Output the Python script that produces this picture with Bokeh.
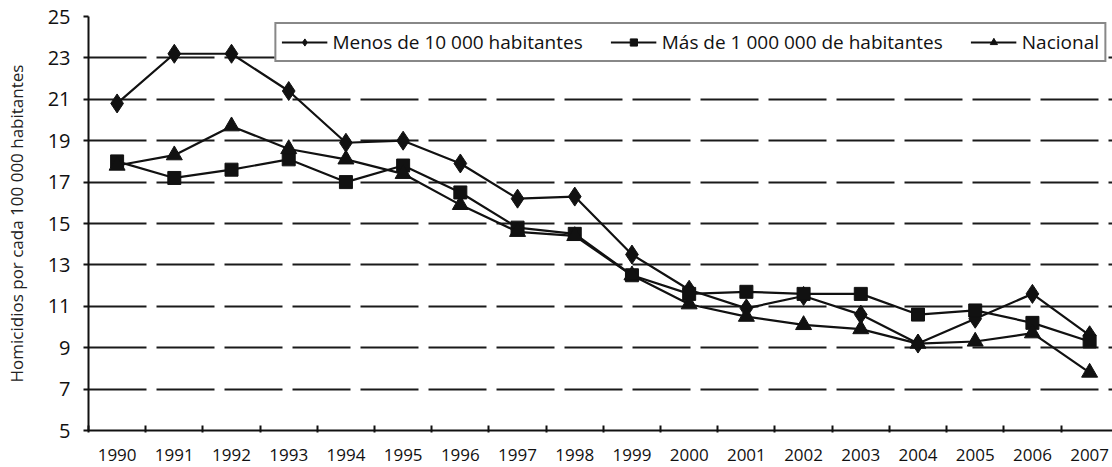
from bokeh.plotting import figure
from bokeh.models import Range1d, FixedTicker, Legend, LegendItem
from bokeh.embed import file_html
from bokeh.resources import INLINE

years = [1990, 1991, 1992, 1993, 1994, 1995, 1996, 1997, 1998,
         1999, 2000, 2001, 2002, 2003, 2004, 2005, 2006, 2007]
menos_10000 = [20.8, 23.2, 23.2, 21.4, 18.9, 19.0, 17.9, 16.2, 16.3,
               13.5, 11.8, 10.9, 11.5, 10.6, 9.2, 10.4, 11.6, 9.6]
mas_1000000 = [18.0, 17.2, 17.6, 18.1, 17.0, 17.8, 16.5, 14.8, 14.5,
               12.5, 11.6, 11.7, 11.6, 11.6, 10.6, 10.8, 10.2, 9.3]
nacional = [17.8, 18.3, 19.7, 18.6, 18.1, 17.4, 15.9, 14.6, 14.4,
            12.5, 11.1, 10.5, 10.1, 9.9, 9.2, 9.3, 9.7, 7.8]
y_ticks = [5, 7, 9, 11, 13, 15, 17, 19, 21, 23, 25]
series_names = ["Menos de 10 000 habitantes", "Más de 1 000 000 de habitantes", "Nacional"]
y_label = "Homicidios por cada 100 000 habitantes"

FONT = "Open Sans"

p = figure(width=1112, height=467, output_backend="svg", toolbar_location=None,
           x_range=Range1d(years[0] - 0.5, years[-1] + 0.4),
           y_range=Range1d(5, 25),
           min_border_left=88, min_border_right=0, min_border_top=16, min_border_bottom=37)
p.outline_line_color = None
p.background_fill_color = "white"

# axes
p.xaxis.ticker = FixedTicker(ticks=years, minor_ticks=[y - 0.5 for y in years])
p.xaxis.major_tick_line_color = None
p.xaxis.minor_tick_line_color = "#111111"
p.xaxis.minor_tick_line_width = 2
p.xaxis.minor_tick_in = 5
p.xaxis.minor_tick_out = 2
p.xaxis.major_label_overrides = {y: str(y) for y in years}
p.xaxis.major_label_text_font = FONT
p.xaxis.major_label_text_font_size = "17px"
p.xaxis.major_label_text_color = "#111111"
p.xaxis.major_label_standoff = 12
p.xaxis.axis_line_color = "#111111"
p.xaxis.axis_line_width = 2

p.yaxis.ticker = FixedTicker(ticks=y_ticks)
p.yaxis.minor_tick_line_color = None
p.yaxis.major_tick_line_color = "#111111"
p.yaxis.major_tick_line_width = 2
p.yaxis.major_tick_in = 0
p.yaxis.major_tick_out = 5
p.yaxis.major_label_text_font = FONT
p.yaxis.major_label_text_font_size = "20px"
p.yaxis.major_label_text_color = "#111111"
p.yaxis.major_label_standoff = 13
p.yaxis.axis_line_color = "#111111"
p.yaxis.axis_line_width = 2
p.yaxis.axis_label = y_label
p.yaxis.axis_label_text_font = FONT
p.yaxis.axis_label_text_font_size = "17px"
p.yaxis.axis_label_text_font_style = "normal"
p.yaxis.axis_label_text_color = "#222222"
p.yaxis.axis_label_standoff = 17

# grid
p.xgrid.grid_line_color = None
p.ygrid.ticker = FixedTicker(ticks=y_ticks[1:])
p.ygrid.grid_line_color = "#1a1a1a"
p.ygrid.grid_line_width = 2
p.ygrid.grid_line_dash = "58 10"

items = []
specs = [(menos_10000, "diamond", 19), (mas_1000000, "square", 13), (nacional, "triangle", 16)]
for (vals, marker, size), name in zip(specs, series_names):
    l = p.line(years, vals, line_color="#111111", line_width=2.2)
    s = p.scatter(years, vals, marker=marker, size=size, fill_color="#111111",
                  line_color="#111111")
    items.append(LegendItem(label=name, renderers=[l, s]))

legend = Legend(items=items, location="top_right", orientation="horizontal",
                label_text_font=FONT, label_text_font_size="19px",
                label_text_color="#111111",
                glyph_width=46, glyph_height=18, spacing=28, padding=5, margin=6,
                label_standoff=5,
                border_line_color="#111111", border_line_width=2,
                background_fill_color="white", background_fill_alpha=1.0)
p.add_layout(legend)

open("out.html", "w").write(file_html(p, INLINE))
